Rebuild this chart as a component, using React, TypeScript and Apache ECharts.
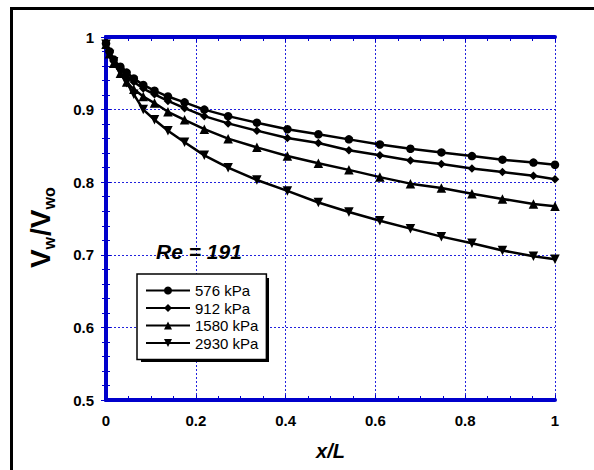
import React, { useEffect, useRef } from "react";
import * as echarts from "echarts";

const xPositions = [0, 0.008, 0.017, 0.032, 0.046, 0.062, 0.083, 0.108, 0.138, 0.175, 0.219, 0.272, 0.336, 0.404, 0.473, 0.541, 0.61, 0.678, 0.747, 0.815, 0.883, 0.952, 1.0];
const p576 = [0.991, 0.98, 0.969, 0.959, 0.951, 0.943, 0.934, 0.926, 0.918, 0.91, 0.9, 0.891, 0.882, 0.873, 0.866, 0.859, 0.852, 0.846, 0.841, 0.836, 0.831, 0.827, 0.824];
const p912 = [0.991, 0.979, 0.967, 0.956, 0.947, 0.938, 0.929, 0.921, 0.912, 0.902, 0.891, 0.881, 0.871, 0.861, 0.854, 0.844, 0.837, 0.83, 0.825, 0.819, 0.814, 0.809, 0.804];
const p1580 = [0.99, 0.977, 0.964, 0.95, 0.938, 0.928, 0.918, 0.909, 0.897, 0.886, 0.873, 0.86, 0.848, 0.836, 0.826, 0.817, 0.807, 0.798, 0.792, 0.784, 0.777, 0.77, 0.767];
const p2930 = [0.99, 0.976, 0.966, 0.951, 0.937, 0.921, 0.9, 0.886, 0.871, 0.855, 0.837, 0.82, 0.803, 0.788, 0.772, 0.759, 0.747, 0.736, 0.725, 0.716, 0.706, 0.698, 0.694];
const seriesNames = ["576 kPa", "912 kPa", "1580 kPa", "2930 kPa"];
const seriesValues = [p576, p912, p1580, p2930];
const seriesSymbols = ["circle", "diamond", "triangle", "triangle"];
const seriesRotate = [0, 0, 0, 180];
const seriesSizes = [8.5, 8.5, 9.5, 9.5];
const annotation = "Re = 191";
const xTitle = "x/L";

const FONT = '"Liberation Sans", Arial, sans-serif';
const BLUE = "#0000CC";

export default function App() {
  const ref = useRef<HTMLDivElement>(null);
  useEffect(() => {
    document.body.style.margin = "0";
    const chart = echarts.init(ref.current!, null, { renderer: "svg" });
    const axisCommon = {
      axisLine: { show: true, lineStyle: { color: BLUE, width: 4 } },
      axisTick: { show: true, inside: true, length: 5, lineStyle: { color: BLUE, width: 1 } },
      minorTick: { show: true, length: 4, lineStyle: { color: BLUE, width: 1 } },
    };
    const txt = (text: string, x: number, y: number, font: string) => ({
      type: "text", x, y,
      style: { text, font, fill: "#000", textVerticalAlign: "middle", verticalAlign: "middle", textAlign: "left", align: "left" },
    });
    const option: any = {
      animation: false,
      backgroundColor: "#fff",
      grid: { left: 106, right: 39, top: 37, bottom: 70, containLabel: false },
      xAxis: [
        {
          type: "value", min: 0, max: 1, interval: 0.2, position: "bottom",
          ...axisCommon,
          minorTick: { ...axisCommon.minorTick, splitNumber: 4 },
          axisLabel: { margin: 13, color: "#000", fontSize: 15, fontWeight: "bold", fontFamily: FONT, formatter: (v: number) => String(+v.toFixed(1)) },
          splitLine: { show: true, lineStyle: { color: "#2222DD", width: 1, type: [2, 2] } },
          name: xTitle, nameLocation: "middle", nameGap: 41,
          nameTextStyle: { fontSize: 20, fontWeight: "bold", fontStyle: "italic", fontFamily: FONT, color: "#000" },
        },
        {
          type: "value", min: 0, max: 1, interval: 0.2, position: "top",
          ...axisCommon,
          minorTick: { ...axisCommon.minorTick, splitNumber: 4 },
          axisLabel: { show: false }, splitLine: { show: false },
        },
      ],
      yAxis: [
        {
          type: "value", min: 0.5, max: 1, interval: 0.1, position: "left",
          ...axisCommon,
          minorTick: { ...axisCommon.minorTick, splitNumber: 5 },
          axisLabel: { margin: 12, color: "#000", fontSize: 15, fontWeight: "bold", fontFamily: FONT, formatter: (v: number) => String(+v.toFixed(1)) },
          splitLine: { show: true, lineStyle: { color: "#2222DD", width: 1, type: [2, 2] } },
        },
        {
          type: "value", min: 0.5, max: 1, interval: 0.1, position: "right",
          ...axisCommon,
          minorTick: { ...axisCommon.minorTick, splitNumber: 5 },
          axisLabel: { show: false }, splitLine: { show: false },
        },
      ],
      legend: {
        orient: "vertical", left: 137, top: 274, z: 10,
        itemWidth: 44, itemHeight: 10, itemGap: 2.5,
        padding: [9, 8, 9, 8],
        backgroundColor: "#fff", borderColor: "#000", borderWidth: 1.5, borderRadius: 0,
        textStyle: { fontSize: 15, lineHeight: 15, fontFamily: FONT, color: "#000" },
        data: seriesNames,
      },
      graphic: [
        { type: "rect", z: 9, shape: { x: 141, y: 278, width: 128, height: 84 }, style: { fill: "#000" } },
        { type: "rect", z: 100, silent: true, shape: { x: 11.5, y: 8.5, width: 700, height: 700 }, style: { fill: "none", stroke: "#000", lineWidth: 3 } },
        { ...txt(annotation, 156, 251, `italic bold 21px ${FONT}`), z: 20 },
        {
          type: "group", x: 40, y: 226, rotation: Math.PI / 2, z: 20,
          children: [
            txt("V", -42, 0, `bold 28px ${FONT}`),
            txt("w", -23.5, 9, `bold 16px ${FONT}`),
            txt("/V", -10, 0, `bold 28px ${FONT}`),
            txt("wo", 16.5, 9, `bold 16px ${FONT}`),
          ],
        },
      ],
      series: seriesNames.map((name, i) => ({
        name, type: "line", xAxisIndex: 0, yAxisIndex: 0,
        data: xPositions.map((x, j) => [x, seriesValues[i][j]]),
        symbol: seriesSymbols[i], symbolSize: seriesSizes[i], symbolRotate: seriesRotate[i],
        showAllSymbol: true,
        lineStyle: { color: "#000", width: 2.5 },
        itemStyle: { color: "#000" },
        z: 3,
      })),
    };
    chart.setOption(option);
    return () => chart.dispose();
  }, []);
  return <div ref={ref} style={{ width: 594, height: 470 }} />;
}
